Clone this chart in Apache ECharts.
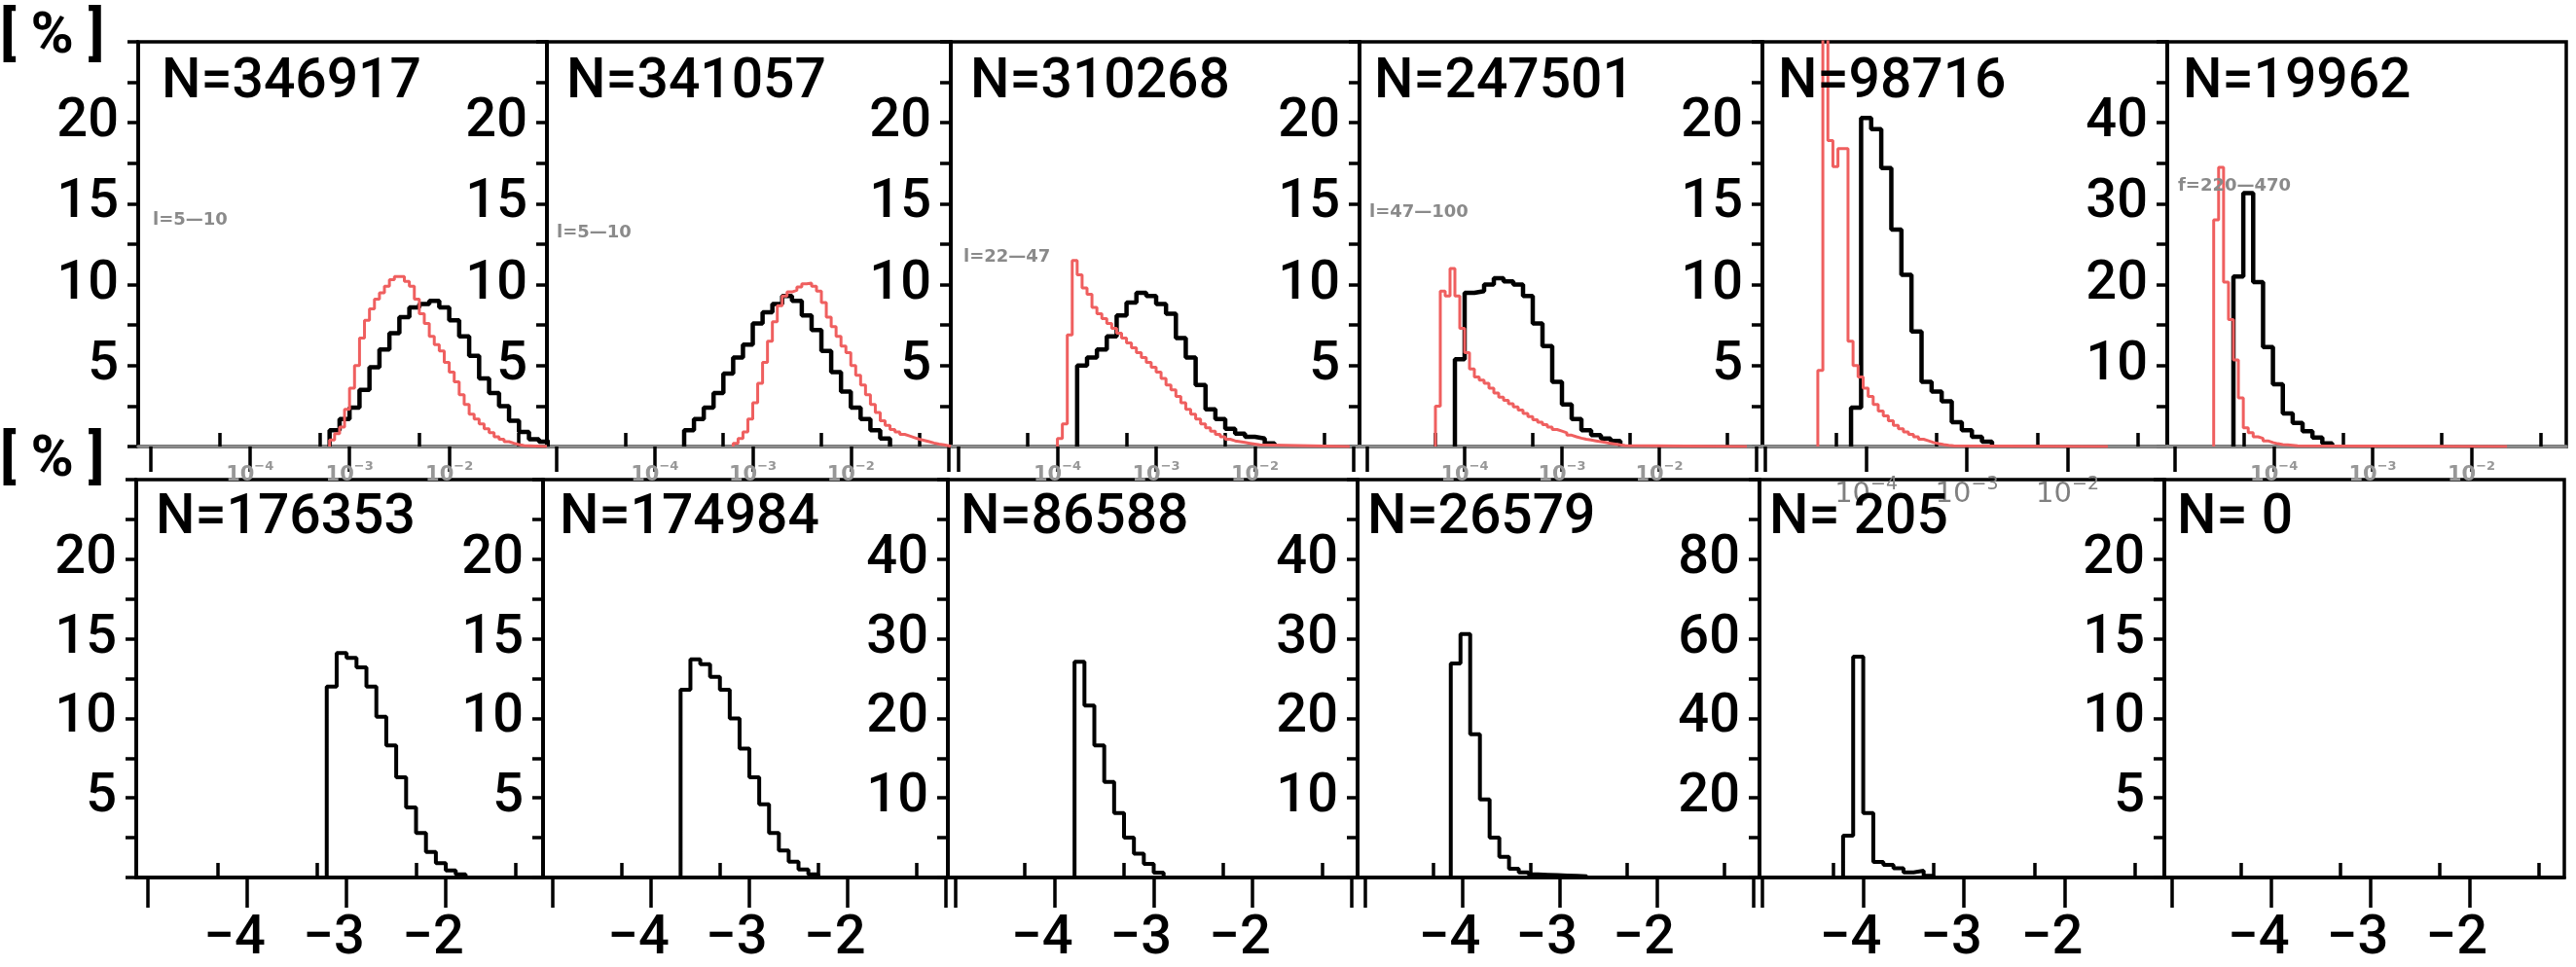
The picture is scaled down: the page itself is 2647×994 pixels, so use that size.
<!DOCTYPE html>
<html><head><meta charset="utf-8">
<script src="https://cdn.jsdelivr.net/npm/echarts@6/dist/echarts.min.js"></script>
<style>html,body{margin:0;padding:0;background:#fff}#c{width:2647px;height:994px}</style>
</head><body><div id="c"></div>
<script>
// ---------------- DATA ----------------
const nLabels = ['N=346917','N=341057','N=310268','N=247501','N=98716','N=19962',
                 'N=176353','N=174984','N=86588','N=26579','N= 205','N= 0'];
const rangeLabels = ['l=5\u201410','l=5\u201410','l=22\u201447','l=47\u2014100','','f=220\u2014470'];
const yMax = [25,25,25,25,25,50, 25,25,50,50,100,25];
// x-axis extent (log10 units) of each column
const xRanges = [[-5.12,-1.02],[-5.10,-0.98],[-5.08,-0.94],[-5.08,-0.94],[-5.03,-1.01],[-5.08,-1.04]];
const decadeValues = [1e-5,1e-4,1e-3,1e-2,1e-1];
const halfDecadeValues = [5e-5,5e-4,5e-3,5e-2];
const labelExponents = [-4,-3,-2];
const blackBinWidth = 0.1, redBinWidth = 0.05;
// black histograms (bin start in log10, then bin heights in %)
const blackStart = [-3.2,-3.7,-3.8,-4.1,-4.15,-4.41, -3.2,-3.7,-3.8,-4.12,-4.2,null];
const black1 = [1.0,1.7,2.4,3.5,4.9,6.0,7.0,8.0,8.6,8.8,9.0,8.6,7.8,6.8,5.6,4.2,3.3,2.5,1.6,0.9,0.45,0.3];
const black2 = [1.0,1.7,2.4,3.3,4.5,5.5,6.3,7.6,8.3,8.8,9.3,9.0,8.1,7.2,5.9,4.6,3.4,2.4,1.7,1.0,0.5];
const black3 = [5.0,5.5,6.0,6.8,8.1,8.9,9.5,9.3,8.8,8.2,6.7,5.5,3.8,2.3,1.7,1.1,0.8,0.6,0.5,0.2];
const black4 = [5.4,9.5,9.6,10.0,10.4,10.2,10.0,9.3,7.6,6.2,4.0,2.6,1.7,1.0,0.7,0.5,0.35];
const black5 = [2.4,20.3,19.6,17.2,13.4,10.6,7.1,4.0,3.4,2.8,1.5,1.0,0.6,0.3];
const black6 = [21,31.3,20.3,12.3,7.7,4.1,2.9,1.9,1.1,0.4];
const black7 = [12.0,14.1,13.8,13.2,12.0,10.1,8.3,6.3,4.4,2.8,1.6,0.9,0.45,0.2];
const black8 = [11.8,13.7,13.4,12.6,11.8,10.0,8.1,6.3,4.6,2.8,1.7,1.0,0.5,0.2];
const black9 = [27.1,21.6,16.6,12.0,8.1,5.0,3.0,1.7,0.6];
const black10 = [26.9,30.6,18.0,9.8,5.0,2.6,1.1,0.65,0.4,0.35,0.3,0.25,0.2,0.15];
const black11 = [10.5,55.5,16.2,3.9,3.2,2.3,1.3,1.7,0.4];
const black12 = [];
// red histograms (top row only)
const redStart = [-3.2,-3.2,-4.0,-4.3,-4.48,-4.61];
const redEnd = [-1.02,-0.98,-1.04,-1.1,-1.6,-1.64];
const red1 = [0.4,0.8,1.2,2.3,3.6,5.0,6.7,7.8,8.5,9.1,9.5,9.9,10.3,10.5,10.5,10.2,9.9,9.1,8.2,7.6,6.8,6.3,5.9,5.2,4.6,4.0,3.2,2.6,2.0,1.7,1.4,1.1,0.85,0.6,0.45,0.3,0.2,0.12,0.06];
const red2 = [0.2,0.5,0.9,1.7,2.7,3.9,5.2,6.5,7.7,8.7,9.3,9.55,9.65,9.85,10.05,10.1,9.9,9.6,8.9,8.0,7.4,6.8,6.2,5.8,5.0,4.4,3.8,3.2,2.6,2.1,1.6,1.3,1.05,0.9,0.75,0.65,0.55,0.45,0.38,0.3,0.22,0.15,0.1,0.05];
const red3 = [0.5,1.4,6.9,11.5,10.6,9.8,9.4,8.6,8.2,7.9,7.6,7.3,7.0,6.7,6.4,6.1,5.8,5.5,5.2,4.9,4.6,4.2,3.8,3.5,3.1,2.7,2.3,2.0,1.7,1.4,1.15,0.95,0.75,0.6,0.45,0.35,0.3,0.25,0.2,0.15,0.1];
const red4 = [2.5,9.6,9.3,11.0,9.3,7.3,5.8,4.8,4.3,4.1,3.9,3.6,3.3,3.05,2.85,2.65,2.45,2.25,2.05,1.85,1.65,1.5,1.35,1.2,1.05,0.95,0.85,0.7,0.6,0.52,0.45,0.4,0.35,0.3,0.25,0.2,0.15,0.1,0.06];
const red5 = [4.7,30,18.9,17.3,18.4,18.4,6.5,5.0,4.3,3.6,3.1,2.6,2.2,1.9,1.6,1.3,1.1,0.9,0.75,0.6,0.45,0.35,0.25,0.18,0.12,0.08,0.05];
const red6 = [28,34.5,20.3,15.7,10.7,6.0,2.3,1.7,1.2,1.0,0.7,0.5,0.35,0.25,0.2,0.15,0.1];

const blackSets = [black1,black2,black3,black4,black5,black6,black7,black8,black9,black10,black11,black12];
const redSets = [red1,red2,red3,red4,red5,red6];

// ---------------- LAYOUT ----------------
const rowTop = [43, 493], rowHeight = [416, 412];
const colLeft = [[142,562,977,1397,1811,2227],[140,558,974,1395,1808,2224]];
const colWidth = [[420,415,420,414,416,410],[418,416,421,413,416,411]];
const nOffset = [[24,20,20,15,16,16],[20,17,13,10,10,13]];
const rangeLabelPos = [[157,217],[572,230],[990,255],[1407,209],null,[2238,182]];

function stepData(start, width, vals, endAt) {
  const pts = [[start, 0]];
  vals.forEach((v, k) => pts.push([+(start + k * width).toFixed(4), v]));
  const e = +(start + vals.length * width).toFixed(4);
  pts.push([e, 0]);
  if (endAt != null && endAt > e) pts.push([endAt, 0]);
  return pts;
}

const grids = [], xAxes = [], yAxes = [], series = [], titles = [];
const greyLbl = '#979797';
for (let i = 0; i < 12; i++) {
  const row = i < 6 ? 0 : 1, col = i % 6;
  const left = colLeft[row][col], width = colWidth[row][col];
  grids.push({left: left, top: rowTop[row], width: width, height: rowHeight[row],
              show: true, borderColor: '#000', borderWidth: 3.5, backgroundColor: 'transparent'});
  const [mn, mx] = xRanges[col];
  const decs = decadeValues.map(Math.log10).filter(v => v >= mn && v <= mx);
  const halves = halfDecadeValues.map(Math.log10).filter(v => v >= mn && v <= mx);
  const big = col === 4;
  const mainLabel = row === 0 ? {
      show: true, customValues: labelExponents, margin: big ? 30 : 14,
      formatter: v => '{b|10}{e|\u2212' + Math.abs(v) + '}',
      rich: {b: {fontSize: big ? 29 : 21, fontWeight: big ? 'normal' : 'bold', fontFamily: 'DejaVu Sans', color: big ? '#808080' : greyLbl, verticalAlign: 'bottom', lineHeight: big ? 34 : 26},
             e: {fontSize: big ? 19 : 13, fontWeight: big ? 'normal' : 'bold', fontFamily: 'DejaVu Sans', color: big ? '#808080' : greyLbl, verticalAlign: 'top', lineHeight: big ? 34 : 26}}
    } : {
      show: true, customValues: labelExponents, margin: 36,
      formatter: v => '{d|\u2212' + Math.abs(v) + '}{s|}',
      rich: {d: {fontSize: 56, fontFamily: 'Roboto', fontWeight: 500, color: '#000'}, s: {width: 26}}
    };
  xAxes.push({gridIndex: i, type: 'value', min: mn, max: mx, z: 3,
    axisLine: {show: true, onZero: false, lineStyle: {color: row === 0 ? '#8c8c8c' : '#000', width: 3.5}},
    axisTick: {show: true, customValues: decs, length: row === 0 ? 26 : 31, lineStyle: {color: '#000', width: 3.5}},
    axisLabel: mainLabel, splitLine: {show: false}});
  xAxes.push({gridIndex: i, type: 'value', min: mn, max: mx, z: 3,
    axisLine: {show: false},
    axisTick: {show: true, customValues: halves, length: row === 0 ? 14 : 15, lineStyle: {color: '#000', width: 3.5}},
    axisLabel: {show: false}, splitLine: {show: false}});
  const ym = yMax[i];
  yAxes.push({gridIndex: i, type: 'value', min: 0, max: ym, interval: ym / 10,
    axisLine: {show: true, lineStyle: {color: '#000', width: 3.5}},
    axisTick: {show: true, length: 11, lineStyle: {color: '#000', width: 3.5}},
    axisLabel: {show: true, customValues: [ym/5, 2*ym/5, 3*ym/5, 4*ym/5], margin: 20,
                fontSize: 56, fontFamily: 'Roboto', fontWeight: 500, color: '#000'},
    splitLine: {show: false}});
  if (blackSets[i].length) {
    series.push({type: 'line', xAxisIndex: 2 * i, yAxisIndex: i, step: 'end', symbol: 'none',
      silent: true, clip: true, z: 3,
      lineStyle: {color: '#000', width: row === 0 ? 4.5 : 4},
      data: stepData(blackStart[i], blackBinWidth, blackSets[i], null)});
  }
  if (row === 0) {
    series.push({type: 'line', xAxisIndex: 2 * i, yAxisIndex: i, step: 'end', symbol: 'none',
      silent: true, clip: true, z: 4,
      lineStyle: {color: '#ef5f5f', width: 3},
      data: stepData(redStart[col], redBinWidth, redSets[col], redEnd[col])});
    if (rangeLabels[col]) {
      titles.push({text: rangeLabels[col], left: rangeLabelPos[col][0], top: rangeLabelPos[col][1], padding: 0,
        textStyle: {fontSize: 18, fontWeight: 'bold', fontFamily: 'DejaVu Sans', color: '#8a8a8a'}});
    }
  }
  titles.push({text: nLabels[i], left: left + nOffset[row][col], top: row === 0 ? 57 : 505, padding: 0,
    textStyle: {fontSize: 57, fontWeight: 500, fontFamily: 'Roboto', color: '#000'}});
}
titles.push({text: '[ % ]', left: 0, top: 9, padding: 0, textStyle: {fontSize: 60, fontWeight: 'bold', fontFamily: 'Roboto', color: '#000'}});
titles.push({text: '[ % ]', left: 0, top: 444, padding: 0, textStyle: {fontSize: 60, fontWeight: 'bold', fontFamily: 'Roboto', color: '#000'}});

const chart = echarts.init(document.getElementById('c'), null, {renderer: 'canvas', width: 2647, height: 994});
chart.setOption({animation: false, backgroundColor: '#fff', title: titles, grid: grids, xAxis: xAxes, yAxis: yAxes, series: series});
</script></body></html>
